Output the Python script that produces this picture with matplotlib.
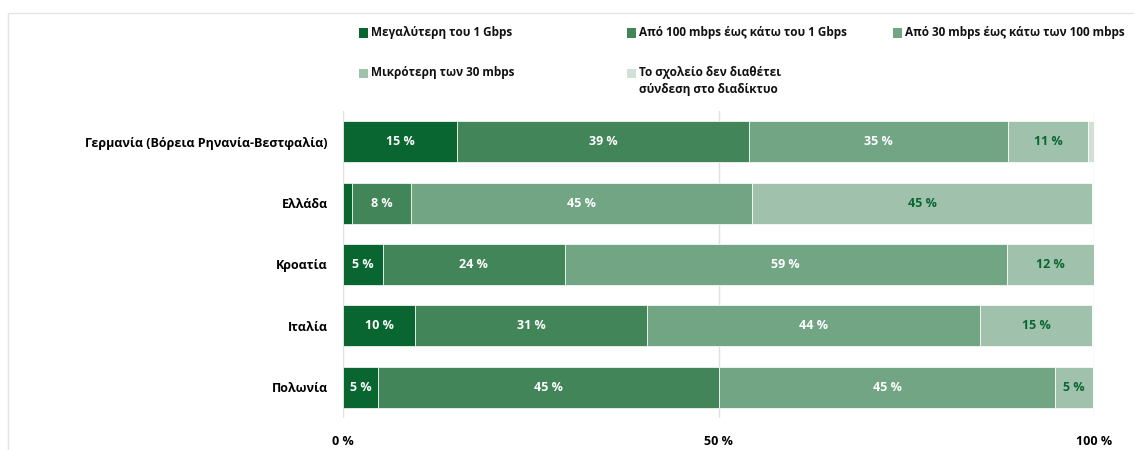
import matplotlib
matplotlib.use("Agg")
import matplotlib.pyplot as plt
from matplotlib.patches import Rectangle
import numpy as np

plt.rcParams['font.family'] = ['Open Sans', 'DejaVu Sans']
plt.rcParams['font.weight'] = 'bold'

countries = ["Γερμανία (Βόρεια Ρηνανία-Βεστφαλία)", "Ελλάδα", "Κροατία", "Ιταλία", "Πολωνία"]
series_names = [
    "Μεγαλύτερη του 1 Gbps",
    "Από 100 mbps έως κάτω του 1 Gbps",
    "Από 30 mbps έως κάτω των 100 mbps",
    "Μικρότερη των 30 mbps",
    "Το σχολείο δεν διαθέτει\nσύνδεση στο διαδίκτυο",
]
gt_1g = [15.2, 1.2, 5.3, 9.6, 4.7]
g100_1g = [38.8, 7.9, 24.2, 30.9, 45.4]
g30_100 = [34.6, 45.3, 58.9, 44.3, 44.7]
lt_30 = [10.6, 45.4, 11.6, 15.0, 5.1]
no_conn = [0.8, 0.0, 0.0, 0.0, 0.0]
xticks = [0, 50, 100]
xtick_labels = ["0 %", "50 %", "100 %"]

colors = ["#0a6631", "#418558", "#72a584", "#a0c2ad", "#d2e1d8"]
text_colors = ["white", "white", "white", "#0a6631", "#0a6631"]

fig = plt.figure(figsize=(11.34, 4.5), dpi=100)
W, H = 1134, 450
ax = fig.add_axes([343 / W, 1 - 418 / H, (1094 - 343) / W, (418 - 111) / H])

# figure border
fig.patches.append(Rectangle((8 / W, -0.1), 1.2, 1 - 13 / H + 0.1, transform=fig.transFigure,
                             fill=False, edgecolor="#e4e4e4", linewidth=1.0, zorder=0))

y = np.arange(len(countries))
left = np.zeros(len(countries))
all_series = [gt_1g, g100_1g, g30_100, lt_30, no_conn]
for vals, col, tcol, name in zip(all_series, colors, text_colors, series_names):
    vals = np.array(vals)
    ax.barh(y, vals, left=left, height=0.667, color=col, edgecolor="#ffffff",
            linewidth=0.5, zorder=3, label=name)
    for yi, (l, v) in enumerate(zip(left, vals)):
        if v >= 3:
            ax.text(l + v / 2, yi, f"{round(v):.0f} %", ha="center", va="center",
                    color=tcol, fontsize=9, fontweight="bold", zorder=4)
    left = left + vals

ax.set_xlim(0, 100)
ax.set_ylim(len(countries) - 0.5, -0.5)
ax.set_yticks(y)
ax.set_yticklabels(countries, fontsize=9, fontweight="bold")
ax.set_xticks(xticks)
ax.set_xticklabels(xtick_labels, fontsize=9, fontweight="bold")
ax.tick_params(axis="both", length=0)
ax.tick_params(axis="x", pad=12)
ax.tick_params(axis="y", pad=11)
ax.grid(axis="x", color="#e0e0e0", linewidth=1.0, zorder=0)
ax.set_axisbelow(True)
for s in ax.spines.values():
    s.set_visible(False)

# legend (fixed grid)
leg_pos = [(359, 33), (627, 33), (893, 33), (359, 73), (627, 73)]
for (px, py), col, name in zip(leg_pos, colors, series_names):
    sq = 9
    fig.patches.append(Rectangle((px / W, 1 - (py + sq / 2) / H), sq / W, sq / H,
                                 transform=fig.transFigure, facecolor=col, edgecolor="none"))
    fig.text((px + 12) / W, 1 - (py - 7) / H, name, ha="left", va="top",
             fontsize=8.5, fontweight="bold", color="#111111", linespacing=1.35)

fig.savefig("out.png", dpi=100)
